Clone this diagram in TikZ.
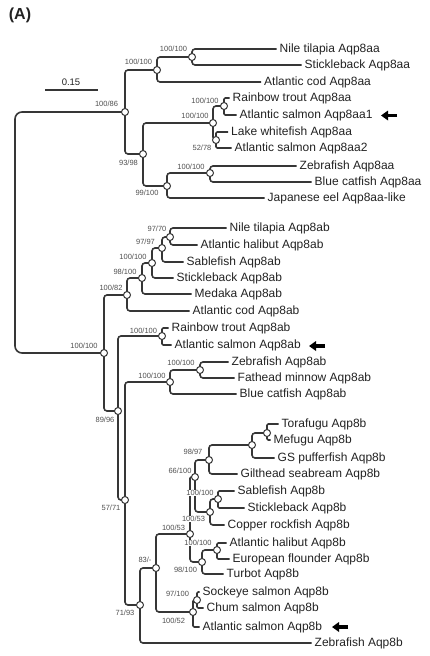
\documentclass[tikz,border=0pt]{standalone}
\usepackage{fontspec}
\setmainfont{Liberation Sans}
\usetikzlibrary{backgrounds,arrows.meta}
\definecolor{lc}{HTML}{363636}
\definecolor{tc}{HTML}{222222}
\definecolor{bc}{HTML}{505050}
\begin{document}
\begin{tikzpicture}[x=1pt,y=-1pt,
 br/.style={draw=lc,line width=1.6pt,rounded corners=3pt},
 sbr/.style={draw=lc,line width=1.6pt,rounded corners=1.2pt},
 rootbr/.style={draw=lc,line width=1.6pt,rounded corners=7pt},
 inn/.style={circle,draw=lc,fill=white,line width=1pt,minimum size=7pt,inner sep=0pt},
 leaf/.style={anchor=west,inner xsep=3pt,inner ysep=0pt,text=tc,font=\fontsize{12}{14}\selectfont,text height=8.6pt,text depth=2.5pt},
 bs/.style={inner sep=0.4pt,fill=white,text=bc,font=\fontsize{7.5}{9}\selectfont},
 pointer/.style={line width=3.5pt,draw=black,-{Triangle[length=7pt,width=9.5pt]}}]
\useasboundingbox (0,0) rectangle (430,656);

% title and scale bar
\node[font=\bfseries\fontsize{16}{19}\selectfont,text=tc] (title) at (20,15) {(A)};
\coordinate (sb1) at (45,90);
\coordinate (sb2) at (98,90);
\draw[draw=lc,line width=1.4pt] (sb1) -- (sb2);
\node[font=\fontsize{9.5}{11}\selectfont,text=tc] (sbl) at (71,82) {0.15};

% root
\coordinate (root) at (15,232);

% internal nodes Aqp8aa
\node[inn] (A1) at (125,112) {};
\node[inn] (A2) at (157,70) {};
\node[inn] (A3) at (192,57) {};
\node[inn] (A4) at (143,154) {};
\node[inn] (A5) at (213,123) {};
\node[inn] (A6) at (224,106) {};
\node[inn] (A7) at (216,140) {};
\node[inn] (A8) at (167,186) {};
\node[inn] (A9) at (210,173) {};
% internal nodes Aqp8ab
\node[inn] (B1) at (104,353) {};
\node[inn] (B2) at (127,295) {};
\node[inn] (B3) at (142,278) {};
\node[inn] (B4) at (152,263) {};
\node[inn] (B5) at (162,248) {};
\node[inn] (B6) at (170,237) {};
\node[inn] (B7) at (118,411) {};
\node[inn] (B8) at (162,336) {};
\node[inn] (B9) at (125,500) {};
\node[inn] (B10) at (170,382) {};
\node[inn] (B11) at (200,370) {};
% internal nodes Aqp8b
\node[inn] (C1) at (140,605) {};
\node[inn] (C2) at (156,568) {};
\node[inn] (C3) at (190,534) {};
\node[inn] (C4) at (195,477) {};
\node[inn] (C5) at (209,460) {};
\node[inn] (C6) at (252,445) {};
\node[inn] (C7) at (267,433) {};
\node[inn] (C8) at (210,512) {};
\node[inn] (C9) at (218,499) {};
\node[inn] (C10) at (202,562) {};
\node[inn] (C11) at (217,550) {};
\node[inn] (C12) at (193,612) {};
\node[inn] (C13) at (197,600) {};

% bootstrap labels
\node[bs] (bA1) at (106.5,104) {100/86};
\node[bs] (bA2) at (138.5,62) {100/100};
\node[bs] (bA3) at (173.5,49) {100/100};
\node[bs] (bA4) at (128.5,163) {93/98};
\node[bs] (bA5) at (195,116) {100/100};
\node[bs] (bA6) at (205,101) {100/100};
\node[bs] (bA7) at (202,148) {52/78};
\node[bs] (bA8) at (147,193) {99/100};
\node[bs] (bA9) at (191,167) {100/100};
\node[bs] (bB1) at (84,346) {100/100};
\node[bs] (bB2) at (111,288) {100/82};
\node[bs] (bB3) at (125,272) {98/100};
\node[bs] (bB4) at (133,257) {100/100};
\node[bs] (bB5) at (145.5,242) {97/97};
\node[bs] (bB6) at (157,229) {97/70};
\node[bs] (bB7) at (105,420) {89/96};
\node[bs] (bB8) at (143.5,331) {100/100};
\node[bs] (bB9) at (111,508) {57/71};
\node[bs] (bB10) at (152,376) {100/100};
\node[bs] (bB11) at (181,363) {100/100};
\node[bs] (bC1) at (125,613) {71/93};
\node[bs] (bC2) at (145,560) {83/-};
\node[bs] (bC3) at (173.5,528) {100/53};
\node[bs] (bC4) at (180,471) {66/100};
\node[bs] (bC5) at (193,452) {98/97};
\node[bs] (bC8) at (193.5,519) {100/53};
\node[bs] (bC9) at (200,493) {100/100};
\node[bs] (bC10) at (185.5,570) {98/100};
\node[bs] (bC11) at (198,543) {100/100};
\node[bs] (bC12) at (173.5,621) {100/52};
\node[bs] (bC13) at (177.5,594) {97/100};

% leaves Aqp8aa
\node[leaf] (l1) at (276.5,49) {Nile tilapia Aqp8aa};
\node[leaf] (l2) at (301.5,65) {Stickleback Aqp8aa};
\node[leaf] (l3) at (261,82) {Atlantic cod Aqp8aa};
\node[leaf] (l4) at (229.5,98) {Rainbow trout Aqp8aa};
\node[leaf] (l5) at (236.5,115) {Atlantic salmon Aqp8aa1};
\node[leaf] (l6) at (228,132) {Lake whitefish Aqp8aa};
\node[leaf] (l7) at (231.5,148) {Atlantic salmon Aqp8aa2};
\node[leaf] (l8) at (296.5,166) {Zebrafish Aqp8aa};
\node[leaf] (l9) at (311.5,182) {Blue catfish Aqp8aa};
\node[leaf] (l10) at (264.5,198) {Japanese eel Aqp8aa-like};
% leaves Aqp8ab
\node[leaf] (l11) at (226.5,228) {Nile tilapia Aqp8ab};
\node[leaf] (l12) at (197.5,245) {Atlantic halibut Aqp8ab};
\node[leaf] (l13) at (183.5,262) {Sablefish Aqp8ab};
\node[leaf] (l14) at (173.5,278) {Stickleback Aqp8ab};
\node[leaf] (l15) at (191.5,294) {Medaka Aqp8ab};
\node[leaf] (l16) at (189.5,311) {Atlantic cod Aqp8ab};
\node[leaf] (l17) at (168.5,328) {Rainbow trout Aqp8ab};
\node[leaf] (l18) at (171.5,345) {Atlantic salmon Aqp8ab};
\node[leaf] (l19) at (228.5,362) {Zebrafish Aqp8ab};
\node[leaf] (l20) at (234.5,378) {Fathead minnow Aqp8ab};
\node[leaf] (l21) at (236.5,394) {Blue catfish Aqp8ab};
% leaves Aqp8b
\node[leaf] (l22) at (278.5,424) {Torafugu Aqp8b};
\node[leaf] (l23) at (270.5,440) {Mefugu Aqp8b};
\node[leaf] (l24) at (274.5,458) {GS pufferfish Aqp8b};
\node[leaf] (l25) at (237.5,474) {Gilthead seabream Aqp8b};
\node[leaf] (l26) at (234.5,491) {Sablefish Aqp8b};
\node[leaf] (l27) at (244.5,508) {Stickleback Aqp8b};
\node[leaf] (l28) at (224.5,525) {Copper rockfish Aqp8b};
\node[leaf] (l29) at (226.5,543) {Atlantic halibut Aqp8b};
\node[leaf] (l30) at (229.5,559) {European flounder Aqp8b};
\node[leaf] (l31) at (223.5,574) {Turbot Aqp8b};
\node[leaf] (l32) at (199.5,592) {Sockeye salmon Aqp8b};
\node[leaf] (l33) at (203.5,608) {Chum salmon Aqp8b};
\node[leaf] (l34) at (199.5,627) {Atlantic salmon Aqp8b};
\node[leaf] (l35) at (311.5,643) {Zebrafish Aqp8b};

% pointer arrows
\coordinate (p1s) at (397,115.5); \coordinate (p1e) at (381,115.5);
\coordinate (p2s) at (325,346); \coordinate (p2e) at (309,346);
\coordinate (p3s) at (348,627); \coordinate (p3e) at (332,627);
\draw[pointer] (p1s) -- (p1e);
\draw[pointer] (p2s) -- (p2e);
\draw[pointer] (p3s) -- (p3e);

\begin{scope}[on background layer]
\draw[rootbr] (root) |- (A1.center);
\draw[rootbr] (root) |- (B1.center);
% Aqp8aa
\draw[br] (A1.center) |- (A2.center);
\draw[br] (A1.center) |- (A4.center);
\draw[br] (A2.center) |- (A3.center);
\draw[br] (A2.center) |- (l3.west);
\draw[br] (A3.center) |- (l1.west);
\draw[br] (A3.center) |- (l2.west);
\draw[br] (A4.center) |- (A5.center);
\draw[br] (A4.center) |- (A8.center);
\draw[br] (A5.center) |- (A6.center);
\draw[br] (A5.center) |- (A7.center);
\draw[sbr] (A6.center) |- (l4.west);
\draw[sbr] (A6.center) |- (l5.west);
\draw[sbr] (A7.center) |- (l6.west);
\draw[sbr] (A7.center) |- (l7.west);
\draw[br] (A8.center) |- (A9.center);
\draw[br] (A8.center) |- (l10.west);
\draw[br] (A9.center) |- (l8.west);
\draw[br] (A9.center) |- (l9.west);
% Aqp8ab
\draw[br] (B1.center) |- (B2.center);
\draw[br] (B1.center) |- (B7.center);
\draw[br] (B2.center) |- (B3.center);
\draw[br] (B2.center) |- (l16.west);
\draw[br] (B3.center) |- (B4.center);
\draw[br] (B3.center) |- (l15.west);
\draw[br] (B4.center) |- (B5.center);
\draw[br] (B4.center) |- (l14.west);
\draw[br] (B5.center) |- (B6.center);
\draw[br] (B5.center) |- (l13.west);
\draw[br] (B6.center) |- (l11.west);
\draw[br] (B6.center) |- (l12.west);
\draw[br] (B7.center) |- (B8.center);
\draw[br] (B7.center) |- (B9.center);
\draw[sbr] (B8.center) |- (l17.west);
\draw[sbr] (B8.center) |- (l18.west);
\draw[br] (B9.center) |- (B10.center);
\draw[br] (B9.center) |- (C1.center);
\draw[br] (B10.center) |- (B11.center);
\draw[br] (B10.center) |- (l21.west);
\draw[br] (B11.center) |- (l19.west);
\draw[br] (B11.center) |- (l20.west);
% Aqp8b
\draw[br] (C1.center) |- (C2.center);
\draw[br] (C1.center) |- (l35.west);
\draw[br] (C2.center) |- (C3.center);
\draw[br] (C2.center) |- (C12.center);
\draw[sbr] (C3.center) |- (C4.center);
\draw[br] (C3.center) |- (C10.center);
\draw[br] (C4.center) |- (C5.center);
\draw[br] (C4.center) |- (C8.center);
\draw[br] (C5.center) |- (C6.center);
\draw[br] (C5.center) |- (l25.west);
\draw[br] (C6.center) |- (C7.center);
\draw[br] (C6.center) |- (l24.west);
\draw[sbr] (C7.center) |- (l22.west);
\draw[sbr] (C7.center) |- (l23.west);
\draw[br] (C8.center) |- (C9.center);
\draw[br] (C8.center) |- (l28.west);
\draw[sbr] (C9.center) |- (l26.west);
\draw[sbr] (C9.center) |- (l27.west);
\draw[br] (C10.center) |- (C11.center);
\draw[br] (C10.center) |- (l31.west);
\draw[sbr] (C11.center) |- (l29.west);
\draw[sbr] (C11.center) |- (l30.west);
\draw[sbr] (C12.center) |- (C13.center);
\draw[sbr] (C12.center) |- (l34.west);
\draw[sbr] (C13.center) |- (l32.west);
\draw[sbr] (C13.center) |- (l33.west);
\end{scope}
\end{tikzpicture}
\end{document}
